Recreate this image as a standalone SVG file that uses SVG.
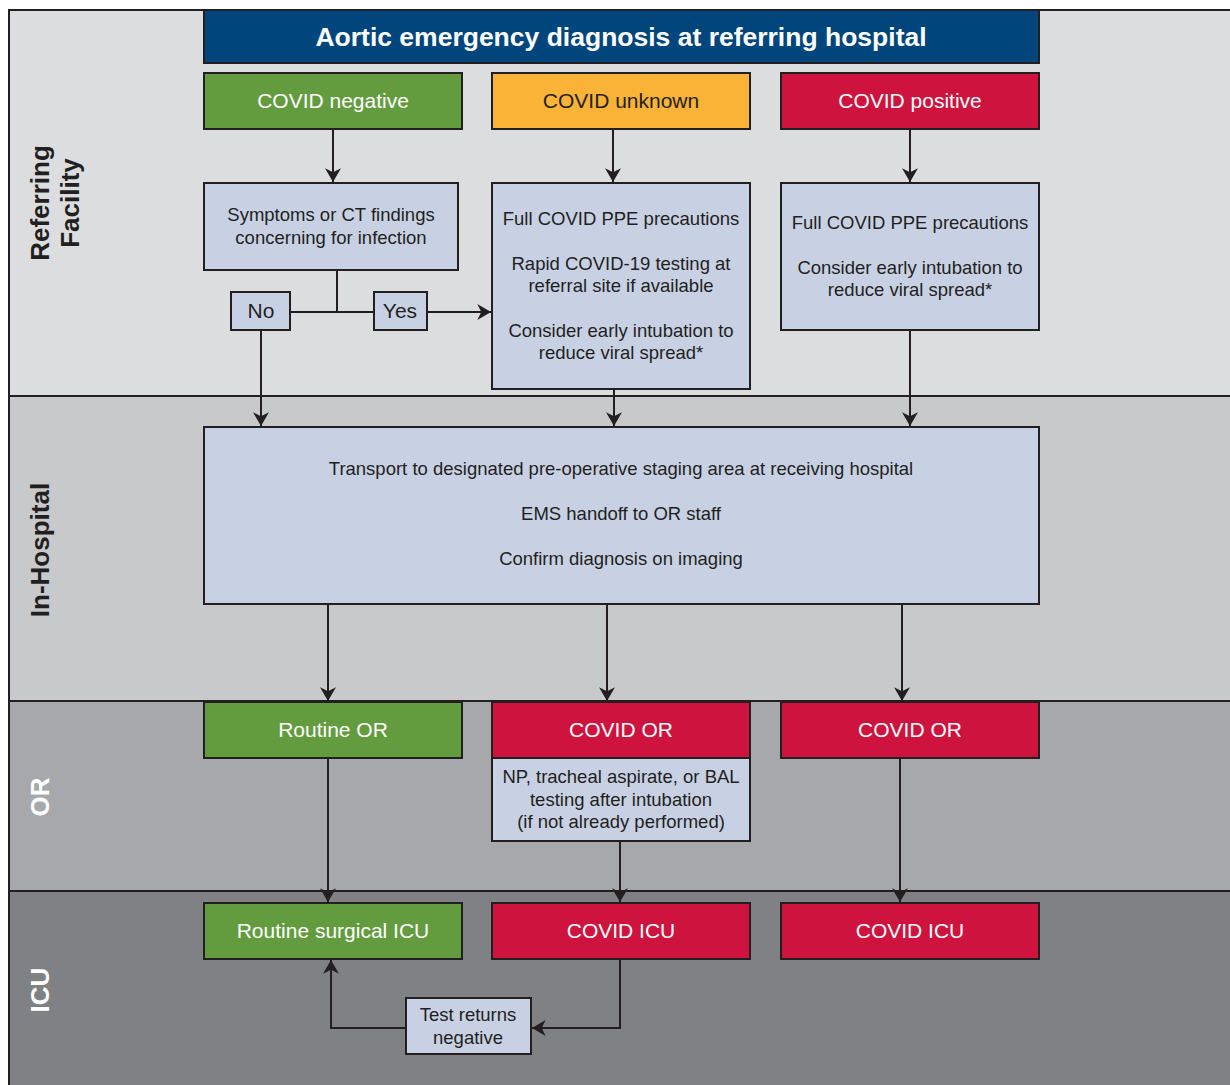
<svg xmlns="http://www.w3.org/2000/svg" width="1230" height="1085" viewBox="0 0 1230 1085">
<style>
.band{stroke:#231f20;stroke-width:2}
.box{stroke:#231f20;stroke-width:2}
.lb{fill:#c8d1e4}
.gr{fill:#639c3f}
.rd{fill:#cd133e}
.or{fill:#fbb337}
.t{font-family:"Liberation Sans",Arial,sans-serif;font-size:18.5px;fill:#231f20;text-anchor:middle}
.h{font-family:"Liberation Sans",Arial,sans-serif;font-size:21px;text-anchor:middle}
.w{fill:#ffffff}
.k{fill:#231f20}
.lane{font-family:"Liberation Sans",Arial,sans-serif;font-size:26px;font-weight:bold;text-anchor:middle}
.c{fill:none;stroke:#231f20;stroke-width:2}
</style>
<defs>
<marker id="ahb" viewBox="0 0 12 14" refX="12" refY="7" markerWidth="14" markerHeight="16" markerUnits="userSpaceOnUse" orient="auto">
<path d="M0,0 L12,7 L0,14 L3.5,7 Z" fill="#231f20"/>
</marker>
</defs>
<rect x="0" y="0" width="1230" height="1085" fill="#ffffff"/>
<g id="lanes">
<rect class="band" x="9" y="10" width="1230" height="386" fill="#dcdddf"/>
<rect class="band" x="9" y="396" width="1230" height="305" fill="#c8c9cb"/>
<rect class="band" x="9" y="701" width="1230" height="190" fill="#a7a8ab"/>
<rect class="band" x="9" y="891" width="1230" height="200" fill="#808184"/>
<text class="lane k" transform="translate(49,203) rotate(-90)">Referring</text>
<text class="lane k" transform="translate(79,203) rotate(-90)">Facility</text>
<text class="lane k" transform="translate(49,550) rotate(-90)">In-Hospital</text>
<text class="lane w" transform="translate(49,797) rotate(-90)">OR</text>
<text class="lane w" transform="translate(49,990) rotate(-90)">ICU</text>
</g>
<g id="title">
<rect class="box" x="204" y="10" width="835" height="53" fill="#00457c"/>
<text x="621" y="46" font-family="Liberation Sans,Arial,sans-serif" font-size="26.5" font-weight="bold" fill="#ffffff" text-anchor="middle">Aortic emergency diagnosis at referring hospital</text>
</g>
<g id="covid-negative"><rect class="box gr" x="204" y="73" width="258" height="56"/><text class="h w" x="333" y="108">COVID negative</text></g>
<g id="covid-unknown"><rect class="box or" x="492" y="73" width="258" height="56"/><text class="h k" x="621" y="108">COVID unknown</text></g>
<g id="covid-positive"><rect class="box rd" x="781" y="73" width="258" height="56"/><text class="h w" x="910" y="108">COVID positive</text></g>
<g id="symptoms"><rect class="box lb" x="204" y="183" width="254" height="87"/>
<text class="t" x="331" y="221">Symptoms or CT findings</text><text class="t" x="331" y="244">concerning for infection</text></g>
<g id="no"><rect class="box lb" x="231" y="292" width="59" height="38"/><text class="h k" x="261" y="318">No</text></g>
<g id="yes"><rect class="box lb" x="374" y="292" width="53" height="38"/><text class="h k" x="400" y="318">Yes</text></g>
<g id="unknown-steps"><rect class="box lb" x="492" y="183" width="258" height="206"/>
<text class="t" x="621" y="225">Full COVID PPE precautions</text>
<text class="t" x="621" y="270">Rapid COVID-19 testing at</text>
<text class="t" x="621" y="292">referral site if available</text>
<text class="t" x="621" y="337">Consider early intubation to</text>
<text class="t" x="621" y="359">reduce viral spread*</text></g>
<g id="positive-steps"><rect class="box lb" x="781" y="183" width="258" height="147"/>
<text class="t" x="910" y="229">Full COVID PPE precautions</text>
<text class="t" x="910" y="274">Consider early intubation to</text>
<text class="t" x="910" y="296">reduce viral spread*</text></g>
<g id="in-hospital"><rect class="box lb" x="204" y="427" width="835" height="177"/>
<text class="t" x="621" y="475">Transport to designated pre-operative staging area at receiving hospital</text>
<text class="t" x="621" y="520">EMS handoff to OR staff</text>
<text class="t" x="621" y="565">Confirm diagnosis on imaging</text></g>
<g id="routine-or"><rect class="box gr" x="204" y="702" width="258" height="56"/><text class="h w" x="333" y="737">Routine OR</text></g>
<g id="covid-or-1"><rect class="box rd" x="492" y="702" width="258" height="56"/><text class="h w" x="621" y="737">COVID OR</text></g>
<g id="covid-or-2"><rect class="box rd" x="781" y="702" width="258" height="56"/><text class="h w" x="910" y="737">COVID OR</text></g>
<g id="np-testing"><rect class="box lb" x="492" y="758" width="258" height="83"/>
<text class="t" x="621" y="783">NP, tracheal aspirate, or BAL</text>
<text class="t" x="621" y="806">testing after intubation</text>
<text class="t" x="621" y="828">(if not already performed)</text></g>
<g id="routine-icu"><rect class="box gr" x="204" y="903" width="258" height="56"/><text class="h w" x="333" y="938">Routine surgical ICU</text></g>
<g id="covid-icu-1"><rect class="box rd" x="492" y="903" width="258" height="56"/><text class="h w" x="621" y="938">COVID ICU</text></g>
<g id="covid-icu-2"><rect class="box rd" x="781" y="903" width="258" height="56"/><text class="h w" x="910" y="938">COVID ICU</text></g>
<g id="test-negative"><rect class="box lb" x="406" y="998" width="125" height="56"/>
<text class="t" x="468" y="1021">Test returns</text><text class="t" x="468" y="1044">negative</text></g>
<g id="connectors">
<path class="c" d="M333,129 V182" marker-end="url(#ahb)"/>
<path class="c" d="M613,129 V182" marker-end="url(#ahb)"/>
<path class="c" d="M910,129 V182" marker-end="url(#ahb)"/>
<path class="c" d="M337,270 V312"/>
<path class="c" d="M290,312 H374"/>
<path class="c" d="M427,312 H491" marker-end="url(#ahb)"/>
<path class="c" d="M261,330 V426" marker-end="url(#ahb)"/>
<path class="c" d="M614,389 V426" marker-end="url(#ahb)"/>
<path class="c" d="M910,330 V426" marker-end="url(#ahb)"/>
<path class="c" d="M328,604 V701" marker-end="url(#ahb)"/>
<path class="c" d="M607,604 V701" marker-end="url(#ahb)"/>
<path class="c" d="M902,604 V701" marker-end="url(#ahb)"/>
<path class="c" d="M328,758 V902" marker-end="url(#ahb)"/>
<path class="c" d="M620,841 V902" marker-end="url(#ahb)"/>
<path class="c" d="M900,758 V902" marker-end="url(#ahb)"/>
<path class="c" d="M620,959 V1028 H532" marker-end="url(#ahb)"/>
<path class="c" d="M406,1028 H331 V960" marker-end="url(#ahb)"/>
</g>
</svg>
